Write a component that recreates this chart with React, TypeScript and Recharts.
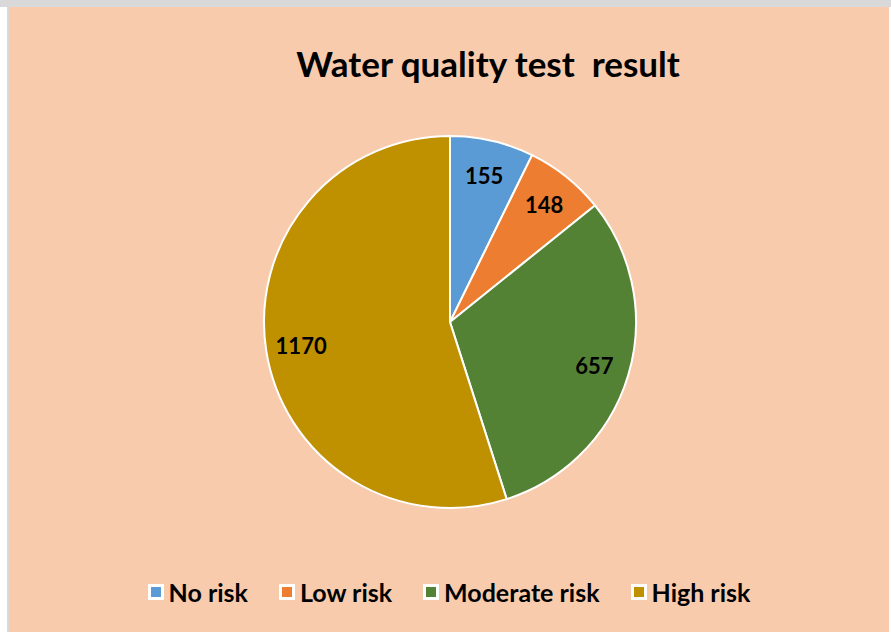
import { PieChart, Pie, Cell, Legend } from 'recharts';

const categories = ['No risk', 'Low risk', 'Moderate risk', 'High risk'];
const counts = [155, 148, 657, 1170];
const colors = ['#5B9BD5', '#ED7D31', '#548235', '#BF9000'];

const data = categories.map((name, i) => ({ name, value: counts[i] }));

const RAD = Math.PI / 180;

function renderLabel(props: any) {
  const { cx, cy, midAngle, outerRadius, value } = props;
  const r = outerRadius * 0.81;
  const x = cx + r * Math.cos(-midAngle * RAD);
  const y = cy + r * Math.sin(-midAngle * RAD);
  return (
    <text x={x} y={y} textAnchor="middle" dominantBaseline="central"
      fontFamily="Lato" fontWeight="bold" fontSize={22} fill="#000">
      {value}
    </text>
  );
}

function LegendContent() {
  return (
    <div style={{ display: 'flex', justifyContent: 'center', gap: 31, fontFamily: 'Lato', fontWeight: 'bold', fontSize: 25, color: '#000', lineHeight: '30px' }}>
      {categories.map((c, i) => (
        <div key={c} style={{ display: 'flex', alignItems: 'center' }}>
          <span style={{ width: 10, height: 10, background: colors[i], border: '3px solid #fff', marginRight: 5, display: 'inline-block' }} />
          <span>{c}</span>
        </div>
      ))}
    </div>
  );
}

export default function App() {
  return (
    <div style={{ position: 'absolute', left: 0, top: 0, width: 891, height: 632, background: '#fff', overflow: 'hidden' }}>
      <div style={{ position: 'absolute', left: 0, top: 0, width: 891, height: 7, background: '#d9d9d9' }} />
      <div style={{ position: 'absolute', left: 7, top: 7, width: 882, height: 625, background: '#d9d9d9' }} />
      <div style={{ position: 'absolute', left: 9, top: 7, width: 880, height: 625, background: '#F8CBAD' }}>
        <div style={{ position: 'absolute', left: 0, top: 35, width: 958, textAlign: 'center', whiteSpace: 'pre', fontFamily: 'Lato', fontWeight: 'bold', fontSize: 35, color: '#000' }}>
          {'Water quality test  result'}
        </div>
        <PieChart width={880} height={625}>
          <Pie data={data} dataKey="value" nameKey="name" cx={436} cy={310} outerRadius={186}
            startAngle={90} endAngle={-270} stroke="#fff" strokeWidth={2}
            label={renderLabel} labelLine={false} isAnimationActive={false}>
            {data.map((d, i) => <Cell key={d.name} fill={colors[i]} />)}
          </Pie>
          <Legend content={<LegendContent />} verticalAlign="bottom"
            wrapperStyle={{ left: 0, width: 880, bottom: 25 }} />
        </PieChart>
      </div>
    </div>
  );
}
